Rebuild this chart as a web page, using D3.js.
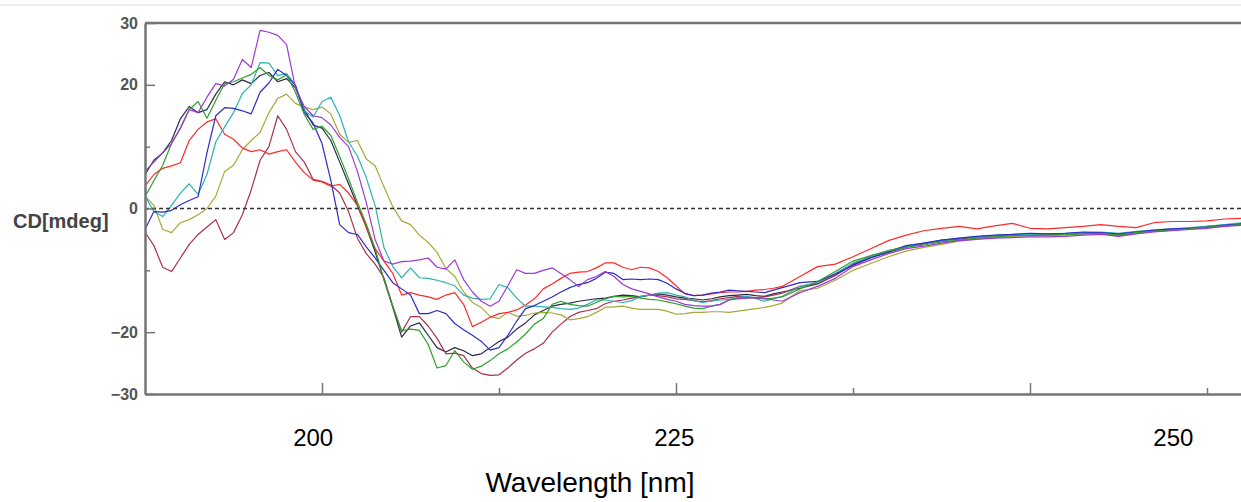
<!DOCTYPE html>
<html>
<head>
<meta charset="utf-8">
<script src="https://cdn.jsdelivr.net/npm/d3@7"></script>
<style>
  body { margin: 0; background: #fff; }
  text { font-family: "Liberation Sans", Arial, sans-serif; }
</style>
</head>
<body>
<svg id="chart"></svg>
<script>
// CHART DATA
// wavelengths: half-nm steps up to 226, then 1 nm steps
var wavelengths = [
  190, 190.5, 191, 191.5, 192, 192.5, 193, 193.5, 194, 194.5,
  195, 195.5, 196, 196.5, 197, 197.5, 198, 198.5, 199, 199.5,
  200, 200.5, 201, 201.5, 202, 202.5, 203, 203.5, 204, 204.5,
  205, 205.5, 206, 206.5, 207, 207.5, 208, 208.5, 209, 209.5,
  210, 210.5, 211, 211.5, 212, 212.5, 213, 213.5, 214, 214.5,
  215, 215.5, 216, 216.5, 217, 217.5, 218, 218.5, 219, 219.5,
  220, 220.5, 221, 221.5, 222, 222.5, 223, 223.5, 224, 224.5,
  225, 225.5, 226,
  227, 228, 229, 230, 231, 232, 233, 234, 235, 236,
  237, 238, 239, 240, 241, 242, 243, 244, 245, 246,
  247, 248, 249, 250, 251, 252
];

var brownSeries = [
  -3.8, -6.0, -9.5, -10.2, -8.0, -5.8, -4.2, -3.0, -1.8, -5.0,
  -3.9, -1.0, 3.0, 7.8, 10.0, 15.0, 12.8, 9.2, 7.5, 4.7,
  4.4, 3.8, 2.5, -0.5, -4.8, -7.3, -9.0, -11.2, -15.8, -20.0,
  -17.5, -17.5, -19.0, -21.0, -23.5, -23.4, -23.8, -25.8, -26.7, -27.0,
  -26.9, -25.8, -24.5, -23.4, -22.7, -21.8, -20.0, -18.7, -17.5, -16.8,
  -16.5, -16.2, -15.4, -15.0, -14.8, -14.5, -14.2, -14.0, -14.1, -14.3,
  -14.6, -14.7, -14.9, -15.1, -14.9, -14.6, -14.4, -14.2, -14.3, -14.4,
  -14.3, -14.0, -13.7,
  -12.6, -12.1, -10.8, -9.0, -7.7, -6.8, -6.2, -5.7, -5.1, -4.9,
  -4.6, -4.4, -4.3, -4.2, -4.2, -4.1, -3.9, -4.0, -4.4, -3.9,
  -3.6, -3.4, -3.2, -3.0, -2.8, -2.5
];

var oliveSeries = [
  2.0, 0.5, -3.4, -3.9, -2.3, -1.8, -1.0, 0.0, 2.0, 6.0,
  7.0, 9.5, 11.0, 12.3, 15.5, 17.8, 18.5, 17.0, 16.4, 16.0,
  16.4, 15.3, 12.0, 10.7, 11.0, 8.0, 6.9, 3.5, 0.3, -2.0,
  -2.6, -4.3, -5.5, -7.1, -9.7, -11.0, -13.5, -15.2, -16.0, -17.5,
  -17.8, -16.8, -17.4, -17.3, -16.9, -16.8, -16.9, -17.2, -18.0, -17.8,
  -17.5, -16.8, -16.0, -15.9, -15.8, -16.1, -16.3, -16.3, -16.3, -16.6,
  -17.1, -17.0, -16.8, -16.8, -16.7, -16.7, -16.8, -16.6, -16.4, -16.2,
  -16.0, -15.7, -15.3,
  -13.3, -12.9, -11.6, -10.0, -8.9, -7.8, -6.9, -6.3, -5.8, -5.3,
  -4.9, -4.7, -4.5, -4.4, -4.4, -4.3, -4.1, -4.1, -4.3, -4.0,
  -3.7, -3.5, -3.3, -3.1, -2.8, -2.6
];

var redSeries = [
  3.6, 5.5, 6.5, 6.9, 7.4, 11.0, 12.8, 14.0, 14.5, 12.0,
  11.2, 9.8, 9.2, 9.5, 8.8, 9.2, 9.5, 7.5, 5.8, 4.6,
  4.3, 3.6, 3.9, 2.5, 0.5, -3.0, -6.5, -8.5, -10.5, -14.0,
  -13.6, -14.0, -14.3, -14.7, -14.0, -13.6, -15.5, -19.1, -18.4, -17.6,
  -17.0, -16.8, -16.4, -15.6, -14.6, -13.0, -12.2, -11.3, -10.5, -10.3,
  -10.2, -9.6, -8.8, -8.8, -9.5, -9.9, -9.5, -9.6, -10.2, -11.2,
  -12.5, -13.8, -14.1, -14.0, -13.8, -13.6, -13.5, -13.5, -13.4, -13.2,
  -13.1, -12.9, -12.6,
  -11.0, -9.4, -9.0, -7.8, -6.5, -5.2, -4.3, -3.6, -3.2, -2.9,
  -3.3, -2.8, -2.4, -3.2, -3.3, -3.1, -2.9, -2.6, -2.9, -3.1,
  -2.3, -2.1, -2.1, -2.0, -1.7, -1.6
];

var cyanSeries = [
  2.0, -0.5, -1.3, 0.5, 2.5, 4.0, 2.3, 5.5, 10.8, 13.2,
  15.5, 18.6, 20.0, 23.6, 23.5, 21.5, 21.8, 20.0, 15.8, 14.8,
  17.3, 18.0, 15.0, 10.8, 8.5, 5.0, 0.5, -6.3, -9.4, -11.2,
  -9.6, -11.2, -11.3, -11.6, -12.0, -12.5, -14.0, -14.5, -14.7, -14.6,
  -12.3, -12.8, -14.5, -15.8, -15.8, -15.9, -16.0, -16.2, -16.3, -16.1,
  -15.5, -14.8, -14.8, -15.0, -15.2, -14.9, -14.2, -14.0, -13.7, -13.6,
  -14.0, -14.3, -14.9, -15.2, -15.0, -14.8, -14.7, -14.4, -14.2, -14.6,
  -15.0, -14.6, -14.2,
  -12.6, -12.0, -10.5, -8.8, -7.8, -6.8, -6.2, -5.6, -5.2, -4.8,
  -4.6, -4.4, -4.2, -4.2, -4.1, -4.0, -3.9, -3.8, -4.0, -3.7,
  -3.5, -3.3, -3.1, -2.9, -2.6, -2.3
];

var blueSeries = [
  -3.4, -0.5, -0.6, -0.3, 0.6, 1.3, 1.9, 9.0, 15.0, 16.3,
  16.2, 15.8, 15.3, 18.8, 20.3, 22.5, 21.5, 19.9, 15.5, 13.8,
  10.5, 4.5, -2.6, -3.9, -4.2, -6.2, -8.0, -10.0, -12.0, -13.0,
  -14.0, -17.0, -17.0, -16.5, -17.0, -18.6, -19.6, -20.5, -21.5, -22.9,
  -22.5, -20.5, -18.2, -16.2, -15.7, -15.0, -14.3, -13.5, -12.8, -12.3,
  -12.0, -11.3, -10.3, -10.5, -11.5, -11.4, -11.5, -11.4, -11.5, -12.1,
  -13.0, -13.7, -14.1, -14.0, -13.7, -13.5, -13.2, -13.3, -13.4, -13.5,
  -13.6, -13.2, -12.8,
  -12.0, -11.8, -10.6, -9.2, -8.0, -7.0, -6.0, -5.6, -5.1, -4.8,
  -4.5, -4.3, -4.2, -4.0, -4.1, -4.0, -3.8, -3.9, -4.1, -3.8,
  -3.5, -3.3, -3.2, -3.0, -2.7, -2.5
];

var greenSeries = [
  1.9, 4.5, 7.0, 10.5, 13.0, 16.0, 17.3, 14.6, 17.5, 20.2,
  20.5, 21.1, 21.7, 22.8, 21.5, 20.8, 21.6, 18.8, 15.2, 12.8,
  13.3, 11.8, 8.4, 4.8, 1.0, -2.5, -6.5, -11.5, -15.8, -19.8,
  -19.5, -19.7, -22.0, -25.8, -25.4, -23.0, -24.8, -26.0, -25.5, -24.6,
  -23.5, -22.7, -21.6, -20.3, -18.7, -17.8, -15.5, -15.0, -15.5, -15.7,
  -15.8, -15.2, -14.6, -14.2, -14.3, -14.2, -14.5, -14.7, -14.8, -15.1,
  -15.4, -15.8, -16.1, -16.2, -15.8, -15.5, -14.8, -14.5, -14.4, -14.5,
  -14.6, -14.5, -14.3,
  -13.0, -11.8, -10.2, -8.5, -7.6, -6.9, -6.3, -5.9, -5.4, -5.1,
  -4.8, -4.6, -4.4, -4.4, -4.3, -4.2, -4.1, -4.0, -4.3, -3.9,
  -3.7, -3.5, -3.3, -3.0, -2.8, -2.6
];

var blackSeries = [
  5.5, 7.8, 9.0, 11.0, 14.5, 16.5, 15.5, 16.0, 18.5, 20.5,
  20.0, 20.8, 20.2, 21.5, 22.0, 20.5, 21.0, 19.5, 16.0, 13.5,
  13.0, 11.0, 7.5, 4.0, 0.5, -3.0, -7.0, -11.5, -16.0, -20.8,
  -19.0, -18.5, -20.5, -22.5, -23.2, -22.5, -23.0, -23.8, -23.5, -22.5,
  -21.5, -20.8, -19.5, -18.5, -17.2, -16.5, -15.8, -15.5, -15.3, -15.0,
  -14.8, -14.6, -14.5, -14.2, -14.0, -14.1, -14.3, -14.0, -13.8, -14.0,
  -14.3, -14.5, -14.6, -14.8, -14.6, -14.3, -14.1, -14.0, -13.9, -14.1,
  -14.2, -13.8, -13.5,
  -12.9, -12.2, -10.8, -9.1, -7.9, -7.1, -6.2, -5.7, -5.2, -4.9,
  -4.6, -4.4, -4.3, -4.3, -4.2, -4.2, -4.0, -4.1, -4.3, -3.9,
  -3.6, -3.4, -3.2, -2.9, -2.7, -2.4
];

var purpleSeries = [
  6.0, 7.5, 9.0, 10.5, 13.0, 16.0, 15.5, 18.0, 20.2, 19.8,
  20.9, 24.1, 22.8, 28.8, 28.5, 28.0, 26.5, 19.5, 16.5, 15.0,
  14.7, 13.5, 11.5, 10.0, 6.0, 1.0, -5.0, -8.5, -9.0, -8.6,
  -8.5, -8.3, -8.0, -9.5, -9.8, -8.3, -11.5, -13.5, -15.0, -15.8,
  -15.0, -12.5, -9.9, -10.5, -10.5, -10.0, -9.6, -10.5, -11.5, -12.6,
  -11.5, -11.0, -10.2, -11.0, -12.3, -13.0, -13.4, -13.8, -14.3, -14.7,
  -15.0, -15.5, -15.7, -15.8, -15.8, -15.5, -14.8, -14.6, -14.5, -14.4,
  -14.6, -14.8, -15.0,
  -13.6, -12.6, -11.3, -9.4, -8.3, -7.3, -6.5, -6.1, -5.6, -5.2,
  -5.0, -4.8, -4.7, -4.6, -4.6, -4.5, -4.3, -4.2, -4.5, -4.1,
  -3.8, -3.6, -3.4, -3.2, -2.9, -2.7
];

var seriesList = [
  {name: 'black',  values: blackSeries,  color: '#2a2a48'},
  {name: 'brown',  values: brownSeries,  color: '#a83050'},
  {name: 'olive',  values: oliveSeries,  color: '#a8a838'},
  {name: 'red',    values: redSeries,    color: '#ff2a2a'},
  {name: 'cyan',   values: cyanSeries,   color: '#2eb2b2'},
  {name: 'blue',   values: blueSeries,   color: '#2c2cc8'},
  {name: 'green',  values: greenSeries,  color: '#2ea02e'},
  {name: 'purple', values: purpleSeries, color: '#9d3ad2'}
];

// axis ticks and labels
var yLabelTicks = [-30, -20, 0, 20, 30];
var yMinorTicks = [-10, 10];
var xLongTicks = [200, 220, 240];
var xShortTicks = [210, 230, 250];
var xLabels = ['200', '225', '250'];
var xLabelAt = [199.5, 219.9, 248.1];   // where the labels sit in the picture

// SIZES
var width = 1241;
var height = 502;
var plot = {left: 145, top: 23, bottom: 394};
var pxPerNm = 17.7;

var svg = d3.select('#chart')
  .attr('width', width)
  .attr('height', height);

svg.append('rect')
  .attr('width', width)
  .attr('height', height)
  .attr('fill', '#fff');

// thin grey rule at the very top
svg.append('line')
  .attr('x1', 0).attr('x2', width)
  .attr('y1', 5).attr('y2', 5)
  .attr('stroke', '#efefef')
  .attr('stroke-width', 2);

// SCALES
var xScale = d3.scaleLinear()
  .domain([190, 260])
  .range([plot.left, plot.left + 70 * pxPerNm]);

var yScale = d3.scaleLinear()
  .domain([-30, 30])
  .range([plot.bottom, plot.top]);

svg.append('clipPath')
  .attr('id', 'plotClip')
  .append('rect')
  .attr('x', plot.left)
  .attr('y', plot.top)
  .attr('width', width - plot.left)
  .attr('height', plot.bottom - plot.top);

// LINES
var line = d3.line()
  .x((d, i) => xScale(wavelengths[i]))
  .y((d) => yScale(d));

svg.append('g')
  .attr('clip-path', 'url(#plotClip)')
  .selectAll('path')
  .data(seriesList)
  .join('path')
  .attr('d', (s) => line(s.values))
  .attr('fill', 'none')
  .attr('stroke', (s) => s.color)
  .attr('stroke-width', 1.2)
  .attr('stroke-linejoin', 'round');

// zero line
svg.append('line')
  .attr('x1', xScale(190)).attr('x2', width)
  .attr('y1', yScale(0)).attr('y2', yScale(0))
  .attr('stroke', '#333')
  .attr('stroke-width', 1.4)
  .attr('stroke-dasharray', '4,3');

// FRAME & AXES
var frameColor = '#757575';

svg.append('line')
  .attr('x1', xScale(190)).attr('x2', width)
  .attr('y1', yScale(30)).attr('y2', yScale(30))
  .attr('stroke', frameColor)
  .attr('stroke-width', 2.5);

function styleAxis(g) {
  g.select('.domain').attr('stroke', frameColor).attr('stroke-width', 2.5);
  g.selectAll('.tick line').attr('stroke', frameColor).attr('stroke-width', 1.5);
}

var yAxis = d3.axisLeft(yScale)
  .tickValues(yLabelTicks)
  .tickSizeInner(-10)
  .tickSizeOuter(0)
  .tickPadding(7)
  .tickFormat(d3.format('d'));

var yAxisG = svg.append('g')
  .attr('transform', 'translate(' + plot.left + ',0)')
  .call(yAxis)
  .call(styleAxis);

yAxisG.selectAll('.tick text')
  .attr('font-family', '"Liberation Sans", Arial, sans-serif')
  .attr('font-size', 16)
  .attr('font-weight', 'bold')
  .attr('fill', '#555');

svg.append('g')
  .attr('transform', 'translate(' + plot.left + ',0)')
  .call(d3.axisLeft(yScale).tickValues(yMinorTicks).tickSizeInner(-5).tickSizeOuter(0).tickFormat(''))
  .call(styleAxis)
  .select('.domain').remove();

svg.append('g')
  .attr('transform', 'translate(0,' + plot.bottom + ')')
  .call(d3.axisBottom(xScale).tickValues(xLongTicks).tickSizeInner(-11).tickSizeOuter(0).tickFormat(''))
  .call(styleAxis);

svg.append('g')
  .attr('transform', 'translate(0,' + plot.bottom + ')')
  .call(d3.axisBottom(xScale).tickValues(xShortTicks).tickSizeInner(-6).tickSizeOuter(0).tickFormat(''))
  .call(styleAxis)
  .select('.domain').remove();

// x labels pasted below the frame
svg.append('g')
  .selectAll('text')
  .data(xLabels)
  .join('text')
  .attr('x', (d, i) => xScale(xLabelAt[i]))
  .attr('y', 446)
  .attr('text-anchor', 'middle')
  .attr('font-size', 24)
  .attr('fill', '#000')
  .text((d) => d);

svg.append('text')
  .attr('x', 590)
  .attr('y', 492)
  .attr('text-anchor', 'middle')
  .attr('font-size', 28)
  .attr('fill', '#000')
  .text('Wavelength [nm]');

svg.append('text')
  .attr('x', 13)
  .attr('y', 228)
  .attr('font-size', 20)
  .attr('font-weight', 'bold')
  .attr('fill', '#444')
  .text('CD[mdeg]');
</script>
</body>
</html>
